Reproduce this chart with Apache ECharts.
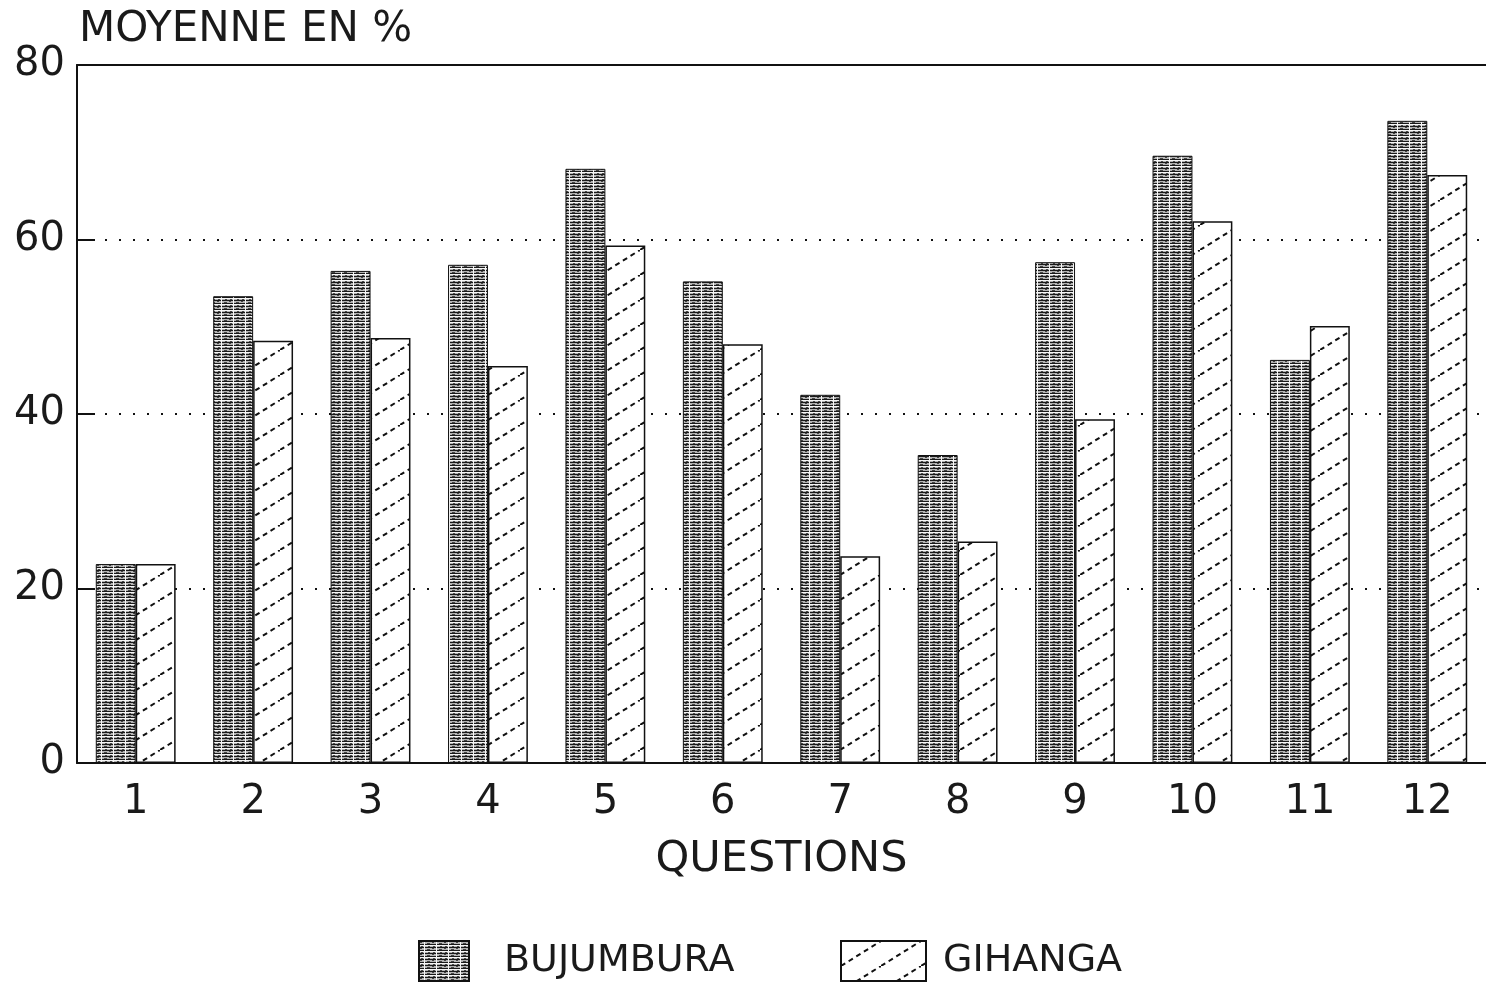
<!DOCTYPE html>
<html>
<head>
<meta charset="utf-8">
<script src="https://cdn.jsdelivr.net/npm/echarts@6/dist/echarts.min.js"></script>
<style>html,body{margin:0;padding:0;background:#fff;}#c{width:1486px;height:983px;}</style>
</head>
<body>
<div id="c"></div>
<script>
const categories = ['1','2','3','4','5','6','7','8','9','10','11','12'];
const bujumbura = [22.8, 53.5, 56.4, 57.1, 68.1, 55.2, 42.2, 35.3, 57.4, 69.6, 46.2, 73.6];
const gihanga   = [22.8, 48.4, 48.7, 45.5, 59.3, 48.0, 23.7, 25.4, 39.4, 62.1, 50.1, 67.4];
const yTicks = [0, 20, 40, 60, 80];

function makeDense() {
  const c = document.createElement('canvas');
  c.width = 12; c.height = 6;
  const g = c.getContext('2d');
  g.fillStyle = '#b4b4b4'; g.fillRect(0,0,12,6);
  g.fillStyle = '#1a1a1a';
  g.fillRect(0,0,12,1);
  g.fillRect(0,3,12,1);
  g.fillStyle = '#f6f6f6';
  g.fillRect(5,0,1,6);
  g.fillRect(0,4,12,1);
  g.fillStyle = '#444';
  g.fillRect(1,1,2,1);
  g.fillRect(8,2,3,1);
  g.fillRect(2,5,2,1);
  g.fillRect(9,5,2,1);
  return c;
}
function makeHatch() {
  const c = document.createElement('canvas');
  c.width = 40; c.height = 25;
  const g = c.getContext('2d');
  g.fillStyle = '#fff'; g.fillRect(0,0,40,25);
  g.strokeStyle = '#111'; g.lineWidth = 2;
  g.setLineDash([5,4]);
  g.beginPath(); g.moveTo(0,25); g.lineTo(40,0); g.stroke();
  return c;
}
const densePat = { image: makeDense(), repeat: 'repeat' };
const hatchPat = { image: makeHatch(), repeat: 'repeat' };

const font = 'DejaVu Sans';
const txt = '#1a1a1a';
const chart = echarts.init(document.getElementById('c'));
chart.setOption({
  backgroundColor: '#fff',
  animation: false,
  title: { text: 'MOYENNE EN %', left: 74, top: 4,
    textStyle: { fontFamily: font, fontSize: 42, fontWeight: 'normal', color: txt } },
  grid: { left: 77, right: 0, top: 65, bottom: 220 },
  legend: [
    { data: ['BUJUMBURA'], left: 413, top: 935, itemWidth: 50, itemHeight: 40, icon: 'rect',
      textStyle: { fontFamily: font, fontSize: 38, color: txt, padding: [0,0,0,30] } },
    { data: ['GIHANGA'], left: 835, top: 935, itemWidth: 85, itemHeight: 40, icon: 'rect',
      textStyle: { fontFamily: font, fontSize: 38, color: txt, padding: [0,0,0,12] } }
  ],
  xAxis: [
    { type: 'category', data: categories,
      axisLine: { lineStyle: { color: '#111', width: 2 } },
      axisTick: { show: false },
      axisLabel: { fontFamily: font, fontSize: 40, color: txt, margin: 20 },
      name: 'QUESTIONS', nameLocation: 'middle', nameGap: 75,
      nameTextStyle: { fontFamily: font, fontSize: 43, color: txt } },
    { type: 'category', data: categories, position: 'top',
      axisLine: { lineStyle: { color: '#111', width: 2 } },
      axisTick: { show: false }, axisLabel: { show: false } }
  ],
  yAxis: { type: 'value', min: yTicks[0], max: yTicks[yTicks.length-1], interval: 20,
    axisLine: { show: true, lineStyle: { color: '#111', width: 2 } },
    axisTick: { show: true, inside: true, length: 18, lineStyle: { color: '#111', width: 2 } },
    axisLabel: { fontFamily: font, fontSize: 40, color: txt, margin: 12 },
    splitLine: { show: true, lineStyle: { type: [2, 12], color: '#111', width: 2 } } },
  series: [
    { name: 'BUJUMBURA', type: 'bar', data: bujumbura, barGap: '0%', barCategoryGap: '32%',
      itemStyle: { color: densePat, borderColor: '#111', borderWidth: 1 } },
    { name: 'GIHANGA', type: 'bar', data: gihanga,
      itemStyle: { color: hatchPat, borderColor: '#111', borderWidth: 1.5 } }
  ]
});
</script>
</body>
</html>
